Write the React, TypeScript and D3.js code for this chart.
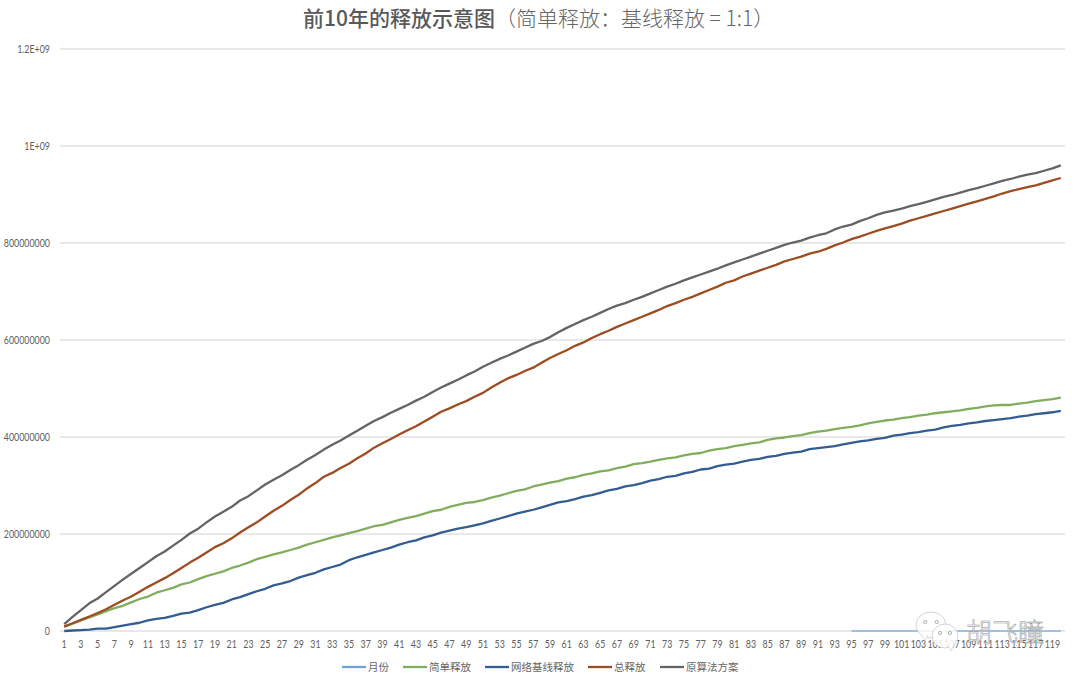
import React, { useEffect, useRef } from "react";
import * as d3 from "d3";

const title = "前10年的释放示意图";
const subtitle = "（简单释放：基线释放 = 1:1）";

const months = [
  1, 2, 3, 4, 5, 6, 7, 8, 9, 10, 11, 12, 13, 14, 15, 16, 17, 18, 19, 20,
  21, 22, 23, 24, 25, 26, 27, 28, 29, 30, 31, 32, 33, 34, 35, 36, 37, 38, 39, 40,
  41, 42, 43, 44, 45, 46, 47, 48, 49, 50, 51, 52, 53, 54, 55, 56, 57, 58, 59, 60,
  61, 62, 63, 64, 65, 66, 67, 68, 69, 70, 71, 72, 73, 74, 75, 76, 77, 78, 79, 80,
  81, 82, 83, 84, 85, 86, 87, 88, 89, 90, 91, 92, 93, 94, 95, 96, 97, 98, 99, 100,
  101, 102, 103, 104, 105, 106, 107, 108, 109, 110, 111, 112, 113, 114, 115, 116, 117, 118, 119, 120,
];

// values below are in millions
const simple = [
  9, 15, 22, 28, 34, 41, 47, 52, 59, 66, 71, 79, 84, 89, 96, 100, 107, 113, 118, 123,
  130, 135, 141, 148, 153, 158, 162, 167, 172, 178, 183, 188, 193, 197, 202, 206, 211, 216, 219, 224,
  229, 233, 237, 242, 247, 250, 256, 260, 264, 266, 270, 275, 279, 284, 289, 292, 298, 302, 306, 309,
  314, 317, 322, 325, 329, 331, 336, 339, 344, 346, 349, 353, 356, 358, 362, 365, 367, 372, 375, 377,
  381, 384, 387, 389, 394, 397, 399, 402, 404, 408, 411, 413, 416, 419, 421, 424, 428, 431, 434, 436,
  439, 441, 444, 446, 449, 451, 453, 455, 458, 460, 463, 465, 466, 466, 469, 471, 474, 476, 478, 481,
];

const baseline = [
  0, 1, 2, 3, 5, 5, 8, 11, 14, 17, 22, 25, 27, 31, 36, 38, 43, 49, 54, 58,
  65, 70, 76, 82, 87, 94, 98, 103, 110, 115, 120, 127, 132, 137, 146, 152, 157, 162, 167, 172,
  178, 183, 187, 193, 197, 203, 207, 211, 214, 218, 222, 227, 232, 237, 242, 246, 250, 255, 260, 265,
  268, 272, 277, 280, 285, 290, 293, 298, 301, 305, 310, 313, 318, 320, 325, 328, 333, 335, 340, 343,
  345, 349, 353, 355, 359, 361, 365, 368, 370, 375, 377, 379, 381, 385, 388, 391, 393, 396, 398, 403,
  405, 408, 410, 413, 415, 420, 423, 425, 428, 430, 433, 435, 437, 439, 442, 444, 447, 449, 451, 454,
];

const total = [
  9, 16, 23, 30, 37, 45, 54, 63, 71, 81, 91, 100, 109, 119, 130, 141, 151, 162, 173, 181,
  191, 203, 214, 224, 236, 248, 258, 270, 281, 294, 305, 318, 326, 336, 345, 356, 366, 378, 387, 396,
  405, 414, 422, 432, 442, 452, 459, 467, 474, 483, 491, 502, 512, 521, 528, 536, 543, 553, 563, 571,
  579, 588, 595, 604, 612, 619, 627, 634, 641, 648, 655, 662, 670, 676, 683, 689, 696, 703, 710, 718,
  723, 731, 737, 743, 749, 755, 762, 767, 772, 778, 782, 788, 795, 801, 808, 813, 819, 825, 830, 835,
  840, 846, 851, 856, 861, 866, 871, 876, 881, 886, 891, 896, 902, 907, 911, 915, 919, 924, 929, 934,
];

const original = [
  14, 29, 43, 57, 67, 80, 93, 106, 118, 130, 142, 154, 164, 176, 188, 201, 211, 224, 236, 246,
  256, 269, 278, 290, 302, 312, 321, 332, 342, 353, 363, 374, 384, 393, 403, 413, 423, 433, 441, 450,
  458, 466, 475, 483, 493, 502, 510, 518, 527, 535, 545, 553, 561, 568, 576, 584, 592, 598, 606, 616,
  625, 633, 641, 648, 656, 664, 671, 676, 683, 689, 696, 703, 710, 716, 723, 729, 735, 741, 747, 754,
  760, 766, 772, 778, 784, 790, 796, 801, 805, 811, 816, 820, 828, 834, 838, 845, 851, 858, 863, 867,
  871, 876, 880, 885, 890, 895, 899, 904, 909, 913, 918, 923, 928, 932, 937, 941, 944, 949, 954, 960,
];

// the month column sits flat on the zero line, only visible from month 95 on
const monthSeries = months.map(m => m / 1e6);
const monthVisibleFrom = 95;

const yTicks = [0, 200, 400, 600, 800, 1000, 1200];
const yTickLabels = ["0", "200000000", "400000000", "600000000", "800000000", "1E+09", "1.2E+09"];

const seriesNames = ["月份", "简单释放", "网络基线释放", "总释放", "原算法方案"];
const seriesValues = [monthSeries, simple, baseline, total, original];
const seriesColors = ["#6d9fd8", "#7fae5c", "#335d90", "#9c4d22", "#646464"];
const legendX = [342, 403, 485, 588, 660];

const cjk = "'Noto Sans CJK SC', sans-serif";
const latin = "Lato, sans-serif";

const App: React.FC = () => {
  const svgRef = useRef<SVGSVGElement>(null);

  useEffect(() => {
    if (!svgRef.current) return;

    d3.select(svgRef.current).selectAll("*").remove();
    const svg = d3.select(svgRef.current);

    const margin = { top: 49, right: 15, bottom: 49, left: 60 };
    const width = 1080;
    const height = 680;

    const x = d3.scaleBand<number>()
      .domain(months)
      .range([margin.left, width - margin.right]);

    const y = d3.scaleLinear()
      .domain([0, 1200])
      .range([height - margin.bottom, margin.top]);

    const center = (m: number) => (x(m) as number) + x.bandwidth() / 2;

    // Title
    const titleText = svg.append("text")
      .attr("x", 303)
      .attr("y", 26)
      .attr("font-family", cjk)
      .attr("font-size", 21)
      .attr("fill", "#595959");
    titleText.append("tspan").attr("font-weight", 500).text(title);
    titleText.append("tspan").attr("font-weight", 300).attr("fill", "#666666").text(subtitle);

    // Gridlines, zero line included
    svg.append("g")
      .selectAll("line")
      .data(yTicks)
      .enter().append("line")
      .attr("x1", margin.left)
      .attr("x2", width - margin.right)
      .attr("y1", d => y(d))
      .attr("y2", d => y(d))
      .attr("stroke", "#e0e0e0")
      .attr("stroke-width", 1.3);

    // Y labels, squeezed because the original font is narrower than Lato
    svg.append("g")
      .selectAll("text")
      .data(yTicks)
      .enter().append("text")
      .attr("transform", d => `translate(50,${y(d) + 3.5}) scale(0.82,1)`)
      .attr("text-anchor", "end")
      .attr("font-family", latin)
      .attr("font-size", 10.8)
      .attr("fill", "#606060")
      .text((d, i) => yTickLabels[i]);

    // Lines
    seriesValues.forEach((values, i) => {
      const line = d3.line<number>()
        .defined((d, k) => i > 0 || months[k] >= monthVisibleFrom)
        .x((d, k) => center(months[k]))
        .y(d => y(d));

      svg.append("path")
        .datum(values)
        .attr("fill", "none")
        .attr("stroke", seriesColors[i])
        .attr("stroke-opacity", i === 0 ? 0.75 : 1)
        .attr("stroke-width", i === 0 ? 1.5 : 2.3)
        .attr("stroke-linejoin", "round")
        .attr("d", line);
    });

    // X axis labels
    const xAxis = svg.append("g")
      .attr("transform", `translate(0,${y(0) + 6})`)
      .call(d3.axisBottom(x).tickValues(months.filter(m => m % 2 === 1)).tickSize(0).tickPadding(3));
    xAxis.select(".domain").remove();
    xAxis.selectAll("text")
      .attr("transform", "scale(0.82,1)")
      .attr("font-family", latin)
      .attr("font-size", 10.8)
      .attr("fill", "#606060");

    // Legend
    const legend = svg.append("g")
      .selectAll("g")
      .data(seriesNames)
      .enter().append("g")
      .attr("transform", (d, i) => `translate(${legendX[i]},667)`);

    legend.append("line")
      .attr("x2", 24)
      .attr("stroke", (d, i) => seriesColors[i])
      .attr("stroke-width", 2.3);

    legend.append("text")
      .attr("x", 26)
      .attr("y", 4)
      .attr("font-family", cjk)
      .attr("font-size", 10.5)
      .attr("fill", "#666666")
      .text(d => d);

    // Watermark
    const mark = svg.append("g");
    const bubble = (cx: number, cy: number, rx: number, ry: number, tx: number, ty: number) => {
      mark.append("ellipse")
        .attr("cx", cx).attr("cy", cy).attr("rx", rx).attr("ry", ry)
        .attr("fill", "#ffffff").attr("fill-opacity", 0.85)
        .attr("stroke", "#d4d4d4").attr("stroke-width", 1);
      mark.append("path")
        .attr("d", `M${tx - 3},${ty - 3} L${tx},${ty + 3} L${tx + 3},${ty - 3}`)
        .attr("fill", "#ffffff").attr("stroke", "#d4d4d4").attr("stroke-width", 0.8);
      [-0.38, 0.38].forEach(k => {
        mark.append("circle")
          .attr("cx", cx + k * rx).attr("cy", cy - 3).attr("r", 1.6)
          .attr("fill", "#ffffff").attr("stroke", "#9a9a9a").attr("stroke-width", 0.8);
      });
    };
    bubble(931, 625, 15, 13, 925, 638);
    bubble(945, 636, 13, 12, 951, 648);
    mark.append("text")
      .attr("x", 966)
      .attr("y", 642)
      .attr("font-family", cjk)
      .attr("font-size", 26)
      .attr("font-weight", 300)
      .attr("fill", "#ffffff")
      .attr("fill-opacity", 0.75)
      .attr("stroke", "#8e8e8e")
      .attr("stroke-width", 0.5)
      .text("胡飞瞳");
  }, []);

  return (
    <svg
      ref={svgRef}
      width={1080}
      height={680}
      style={{ position: "absolute", left: 0, top: 0, background: "#ffffff" }}
    />
  );
};

export default App;
